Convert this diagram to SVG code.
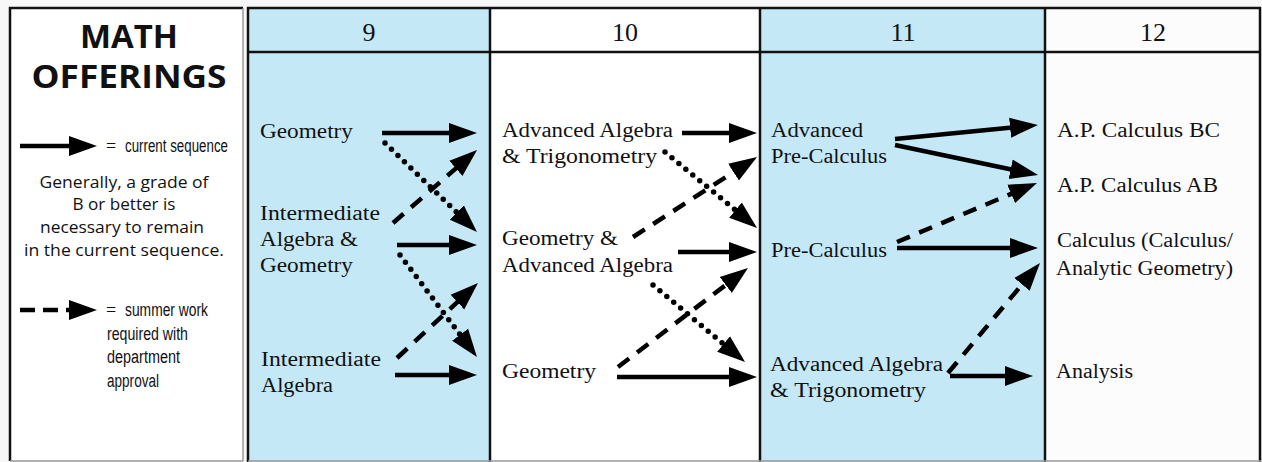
<svg xmlns="http://www.w3.org/2000/svg" width="1262" height="462" viewBox="0 0 1262 462">
<style>
.hdr{font-family:"Liberation Serif",serif;font-size:26px;text-anchor:middle;fill:#111}
.c{font-family:"Liberation Serif",serif;font-size:20px;fill:#111}
.title{font-family:"Open Sans","Liberation Sans",sans-serif;font-weight:700;font-size:32px;text-anchor:middle;fill:#111}
.note{font-family:"Open Sans","Liberation Sans",sans-serif;font-size:16px;text-anchor:middle;fill:#111}
.cond{font-family:"Liberation Sans","Open Sans",sans-serif;font-size:18px;fill:#111}
.eq{font-family:"Liberation Serif",serif;font-size:18px;fill:#111}
.a{stroke:#000;stroke-width:4.5;fill:none;marker-end:url(#head)}
.dash{stroke-dasharray:14 10}
.dot{stroke-dasharray:0 9;stroke-linecap:round;stroke-width:5.5}
.bk{stroke:#111;stroke-width:2.5}
.gr{stroke:#999;stroke-width:1.5}
</style>
<defs>
<marker id="head" markerUnits="userSpaceOnUse" markerWidth="30" markerHeight="22" viewBox="0 0 30 22" refX="2" refY="11" orient="auto">
<path d="M0,1 L28,11 L0,21 Z" fill="#000"/>
</marker>
</defs>
<rect x="0" y="0" width="1262" height="462" fill="#f7f7f8"/>
<g id="legend-panel">
<rect x="10" y="8" width="233" height="453" fill="#fff"/>
<line class="bk" x1="10" y1="7" x2="10" y2="461"/>
<line class="bk" x1="9" y1="8" x2="243" y2="8"/>
<line class="gr" x1="243" y1="8" x2="243" y2="461"/>
<line class="gr" x1="10" y1="461" x2="243" y2="461"/>
<text class="title" x="129" y="48" textLength="98" lengthAdjust="spacingAndGlyphs">MATH</text>
<text class="title" x="129" y="88" textLength="195" lengthAdjust="spacingAndGlyphs">OFFERINGS</text>
<line class="a" x1="20" y1="146" x2="71" y2="146"/>
<text class="eq" x="106" y="152">=</text>
<text class="cond" x="125" y="152" textLength="103" lengthAdjust="spacingAndGlyphs">current sequence</text>
<text class="note" x="124" y="188" textLength="169" lengthAdjust="spacingAndGlyphs">Generally, a grade of</text>
<text class="note" x="124" y="210" textLength="103" lengthAdjust="spacingAndGlyphs">B or better is</text>
<text class="note" x="122" y="233" textLength="164" lengthAdjust="spacingAndGlyphs">necessary to remain</text>
<text class="note" x="124" y="256" textLength="200" lengthAdjust="spacingAndGlyphs">in the current sequence.</text>
<line class="a dash" x1="20" y1="310" x2="71" y2="310" style="stroke-dasharray:15 8"/>
<text class="eq" x="106" y="316">=</text>
<text class="cond" x="125" y="316" textLength="83" lengthAdjust="spacingAndGlyphs">summer work</text>
<text class="cond" x="107" y="340" textLength="81" lengthAdjust="spacingAndGlyphs">required with</text>
<text class="cond" x="107" y="363" textLength="73" lengthAdjust="spacingAndGlyphs">department</text>
<text class="cond" x="107" y="387" textLength="52" lengthAdjust="spacingAndGlyphs">approval</text>
</g>
<g id="table">
<rect x="248" y="8" width="242" height="454" fill="#c5e8f7"/>
<rect x="490" y="8" width="270" height="454" fill="#fff"/>
<rect x="760" y="8" width="285" height="454" fill="#c5e8f7"/>
<rect x="1045" y="8" width="215" height="454" fill="#fcfcfd"/>
<line class="bk" x1="247" y1="8" x2="1261" y2="8"/>
<line class="bk" x1="248" y1="52" x2="1261" y2="52"/>
<line class="bk" x1="248" y1="7" x2="248" y2="462"/>
<line class="bk" x1="490" y1="7" x2="490" y2="462"/>
<line class="bk" x1="760" y1="7" x2="760" y2="462"/>
<line class="bk" x1="1045" y1="7" x2="1045" y2="462"/>
<line class="bk" x1="1260" y1="7" x2="1260" y2="462"/>
<line class="gr" x1="248" y1="461" x2="1261" y2="461"/>
<text class="hdr" x="369" y="41">9</text>
<text class="hdr" x="625" y="41">10</text>
<text class="hdr" x="903" y="41">11</text>
<text class="hdr" x="1153" y="41">12</text>
</g>
<g id="g9-geometry"><text class="c" x="260" y="138" textLength="93" lengthAdjust="spacingAndGlyphs">Geometry</text></g>
<g id="g9-int-alg-geo">
<text class="c" x="260" y="220" textLength="120" lengthAdjust="spacingAndGlyphs">Intermediate</text>
<text class="c" x="260" y="246" textLength="98" lengthAdjust="spacingAndGlyphs">Algebra &amp;</text>
<text class="c" x="260" y="272" textLength="93" lengthAdjust="spacingAndGlyphs">Geometry</text>
</g>
<g id="g9-int-alg">
<text class="c" x="261" y="366" textLength="120" lengthAdjust="spacingAndGlyphs">Intermediate</text>
<text class="c" x="261" y="392" textLength="72" lengthAdjust="spacingAndGlyphs">Algebra</text>
</g>
<g id="g10-adv-alg-trig">
<text class="c" x="502" y="137" textLength="171" lengthAdjust="spacingAndGlyphs">Advanced Algebra</text>
<text class="c" x="502" y="163" textLength="155" lengthAdjust="spacingAndGlyphs">&amp; Trigonometry</text>
</g>
<g id="g10-geo-adv-alg">
<text class="c" x="502" y="245" textLength="116" lengthAdjust="spacingAndGlyphs">Geometry &amp;</text>
<text class="c" x="502" y="272" textLength="171" lengthAdjust="spacingAndGlyphs">Advanced Algebra</text>
</g>
<g id="g10-geometry"><text class="c" x="502" y="378" textLength="94" lengthAdjust="spacingAndGlyphs">Geometry</text></g>
<g id="g11-adv-precalc">
<text class="c" x="771" y="137" textLength="92" lengthAdjust="spacingAndGlyphs">Advanced</text>
<text class="c" x="771" y="163" textLength="116" lengthAdjust="spacingAndGlyphs">Pre-Calculus</text>
</g>
<g id="g11-precalc"><text class="c" x="771" y="257" textLength="116" lengthAdjust="spacingAndGlyphs">Pre-Calculus</text></g>
<g id="g11-adv-alg-trig">
<text class="c" x="770" y="371" textLength="173" lengthAdjust="spacingAndGlyphs">Advanced Algebra</text>
<text class="c" x="770" y="397" textLength="156" lengthAdjust="spacingAndGlyphs">&amp; Trigonometry</text>
</g>
<g id="g12-ap-bc"><text class="c" x="1057" y="137" textLength="163" lengthAdjust="spacingAndGlyphs">A.P. Calculus BC</text></g>
<g id="g12-ap-ab"><text class="c" x="1057" y="192" textLength="161" lengthAdjust="spacingAndGlyphs">A.P. Calculus AB</text></g>
<g id="g12-calculus">
<text class="c" x="1057" y="247" textLength="176" lengthAdjust="spacingAndGlyphs">Calculus (Calculus/</text>
<text class="c" x="1056" y="275" textLength="177" lengthAdjust="spacingAndGlyphs">Analytic Geometry)</text>
</g>
<g id="g12-analysis"><text class="c" x="1056" y="378" textLength="77" lengthAdjust="spacingAndGlyphs">Analysis</text></g>
<g id="connectors">
<line class="a" x1="382" y1="133" x2="451" y2="133"/>
<line class="a dot" x1="385" y1="143" x2="458.3" y2="213.9"/>
<line class="a dash" x1="393" y1="223" x2="457.4" y2="167.1"/>
<line class="a" x1="397" y1="245" x2="451" y2="245"/>
<line class="a dot" x1="400" y1="255" x2="461.3" y2="336.3"/>
<line class="a dash" x1="397" y1="358" x2="458.9" y2="300.7"/>
<line class="a" x1="395" y1="375" x2="451" y2="375"/>
<line class="a" x1="682" y1="133" x2="731" y2="133"/>
<line class="a dot" x1="665" y1="152" x2="737" y2="211.4"/>
<line class="a dash" x1="633" y1="237" x2="735.2" y2="171.1"/>
<line class="a" x1="678" y1="252" x2="731" y2="252"/>
<line class="a dot" x1="653" y1="285" x2="725.1" y2="345.3"/>
<line class="a dash" x1="618" y1="367" x2="727.3" y2="283.8"/>
<line class="a" x1="617" y1="377" x2="731" y2="377"/>
<line class="a" x1="895" y1="139" x2="1012.1" y2="127.5"/>
<line class="a" x1="895" y1="145" x2="1012.6" y2="169.7"/>
<line class="a dash" x1="897" y1="242" x2="1013" y2="193.1"/>
<line class="a" x1="897" y1="248" x2="1012" y2="248"/>
<line class="a dash" x1="948" y1="373" x2="1023.3" y2="282.9"/>
<line class="a" x1="950" y1="376" x2="1007" y2="376"/>
</g>
</svg>
